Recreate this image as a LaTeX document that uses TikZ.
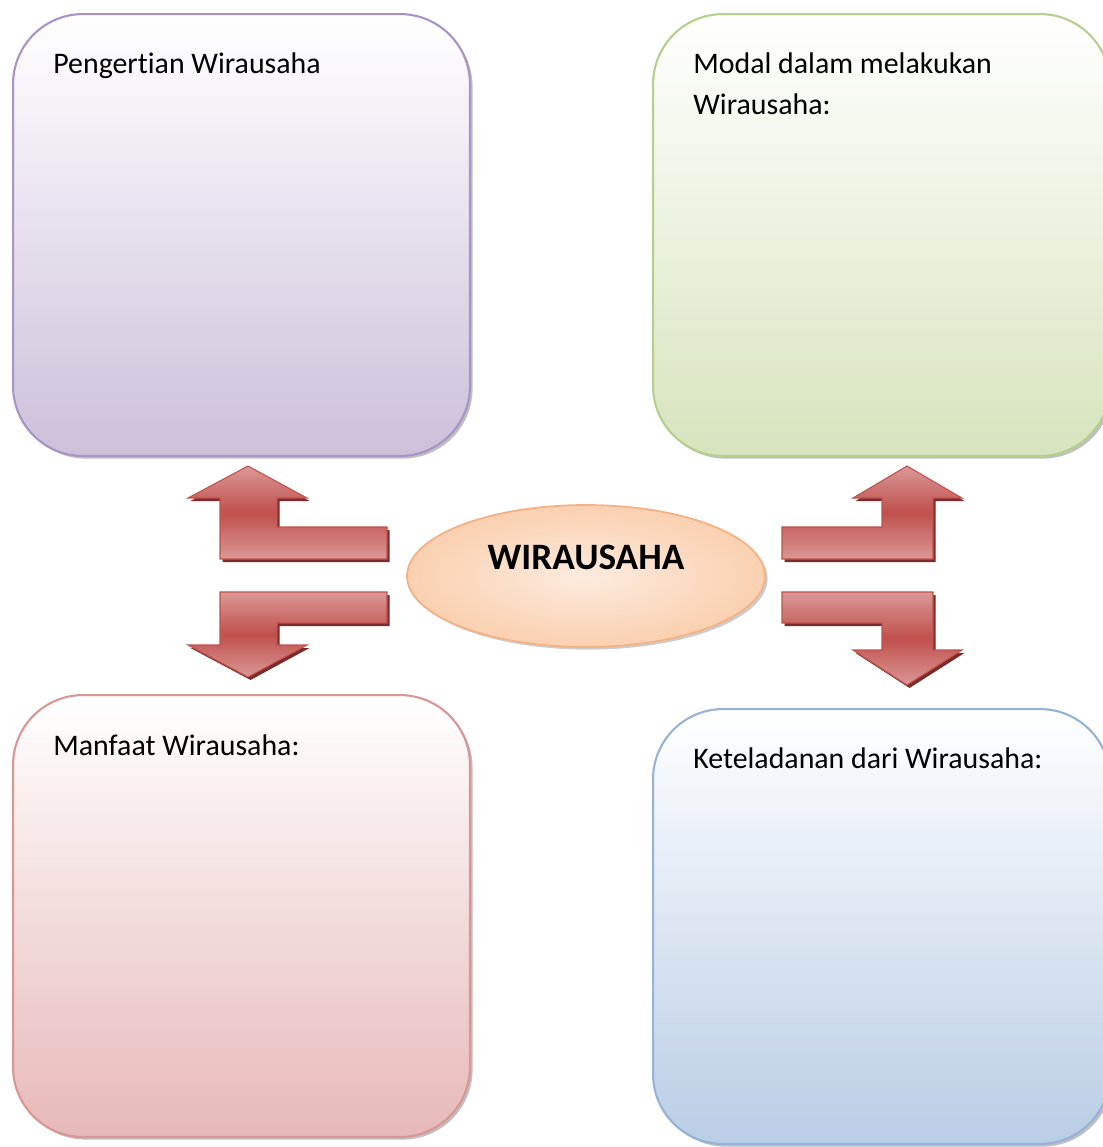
\documentclass[tikz,border=0pt]{standalone}
\usepackage{fontspec}
\setmainfont[Ligatures=CommonOff]{Carlito}
\usetikzlibrary{shapes.geometric,shadows}

\definecolor{purpleline}{HTML}{A894C6}
\definecolor{purplefill}{HTML}{CCC0DA}
\definecolor{greenline}{HTML}{B5CF8E}
\definecolor{greenfill}{HTML}{D7E4BD}
\definecolor{redline}{HTML}{D99694}
\definecolor{redfill}{HTML}{E6B9B8}
\definecolor{blueline}{HTML}{95B3D7}
\definecolor{bluefill}{HTML}{B9CDE5}
\definecolor{arrowdark}{HTML}{C0504D}
\definecolor{arrowlight}{HTML}{DA9896}
\definecolor{arrowshade}{HTML}{7B2C2A}
\definecolor{peachline}{HTML}{F4B183}
\definecolor{peachin}{HTML}{FDEBDE}
\definecolor{peachout}{HTML}{FAD0B0}

\tikzset{
	topic/.style={rectangle, rounded corners=1.4cm, line width=1.2pt, anchor=north west, inner sep=0pt,
		minimum width=9.14cm, minimum height=8.84cm, top color=white,
		drop shadow={shadow xshift=1.5pt, shadow yshift=-1.5pt, fill=black!50, opacity=0.5}},
	topictext/.style={anchor=base west, align=left, inner sep=0pt, font=\fontsize{17}{23.3}\selectfont},
	bendarrow/.style={draw=arrowdark, line width=0.6pt, top color=arrowlight, bottom color=arrowlight, middle color=arrowdark,
		preaction={fill=arrowshade, transform canvas={xshift=0.05cm, yshift=-0.06cm}}}
}

\begin{document}
\begin{tikzpicture}[x=0.02cm, y=-0.02cm]
			\useasboundingbox (0,0) rectangle (1103,1147);

			% kotak topik
			\node (pengertian) [topic, draw=purpleline, bottom color=purplefill] at (12,13) {};
			\node (modal) [topic, draw=greenline, bottom color=greenfill] at (652,13) {};
			\node (manfaat) [topic, draw=redline, bottom color=redfill] at (12,694) {};
			\node (teladan) [topic, draw=blueline, bottom color=bluefill, minimum height=8.7cm] at (652,708) {};

			\node (pengertian-t) [topictext] at (53,73) {Pengertian Wirausaha};
			\node (modal-t) [topictext] at (693,114) {Modal dalam melakukan\\Wirausaha:};
			\node (manfaat-t) [topictext] at (53,755) {Manfaat Wirausaha:};
			\node (teladan-t) [topictext] at (693,768) {Keteladanan dari Wirausaha:};

			% pusat
			\node (wirausaha) [ellipse, draw=peachline, line width=1pt, shading=radial, inner color=peachin, outer color=peachout,
				minimum width=7.16cm, minimum height=2.84cm, inner sep=0pt,
				drop shadow={shadow xshift=1.5pt, shadow yshift=-1.5pt, fill=black!50, opacity=0.4}] at (586,576) {};
			\node (wirausaha-t) [anchor=base, inner sep=0pt, font=\bfseries\fontsize{21.2}{26}\selectfont] at (586,569) {WIRAUSAHA};

			% panah kiri
			\draw[bendarrow] (387,527) -- (277,527) -- (277,498) -- (307,498) -- (248,466) -- (188,498)
				-- (220,498) -- (220,559) -- (387,559) -- cycle;
			\draw[bendarrow] (387,592) -- (220,592) -- (220,645) -- (188,645) -- (248,677) -- (307,645)
				-- (277,645) -- (277,623) -- (387,623) -- cycle;

			% panah kanan
			\draw[bendarrow] (782,527) -- (882,527) -- (882,498) -- (853,498) -- (907,466) -- (962,498)
				-- (933,498) -- (933,559) -- (782,559) -- cycle;
			\draw[bendarrow] (782,592) -- (933,592) -- (933,650) -- (962,650) -- (907,685) -- (853,650)
				-- (882,650) -- (882,623) -- (782,623) -- cycle;
		\end{tikzpicture}
\end{document}
